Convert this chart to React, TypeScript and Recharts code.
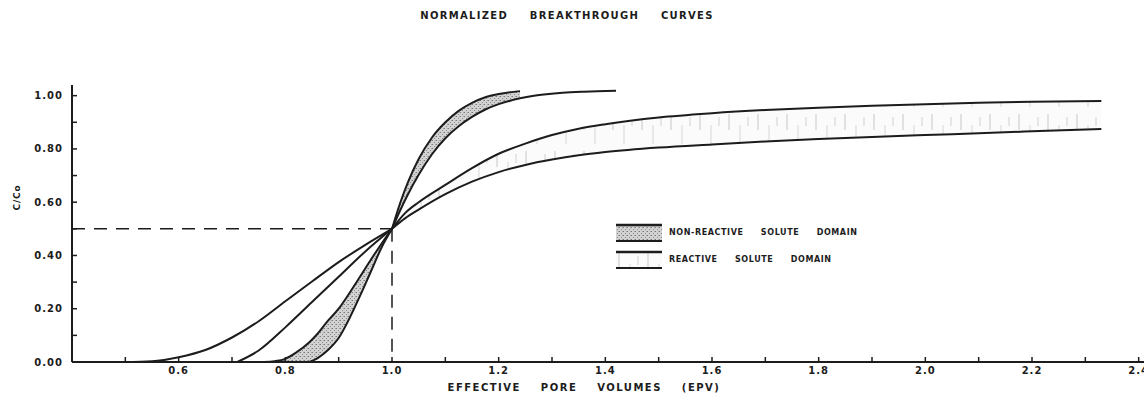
import { ComposedChart, Line, Area, XAxis, YAxis, ReferenceLine, Legend } from "recharts";

// C/Co readings against effective pore volumes, taken off the plot
const nrLowX = [0.76, 0.78, 0.8, 0.82, 0.845, 0.86, 0.88, 0.9, 0.92, 0.94, 0.96, 0.98, 1.0];
const nrLowOuter = [0, 0.003, 0.012, 0.035, 0.074, 0.105, 0.155, 0.2, 0.258, 0.32, 0.383, 0.443, 0.5];
const nrLowInner = [0, 0, 0, 0, 0, 0.014, 0.045, 0.09, 0.163, 0.248, 0.338, 0.428, 0.5];

const nrUpX = [1.0, 1.015, 1.03, 1.05, 1.075, 1.1, 1.125, 1.15, 1.175, 1.2, 1.24];
const nrUpOuter = [0.5, 0.595, 0.675, 0.762, 0.843, 0.9, 0.943, 0.973, 0.994, 1.006, 1.017];
const nrUpInner = [0.5, 0.568, 0.63, 0.703, 0.78, 0.84, 0.885, 0.92, 0.948, 0.968, 0.99];
const nrTailX = [1.24, 1.28, 1.32, 1.36, 1.42];
const nrTail = [0.99, 1.003, 1.011, 1.015, 1.018];

const rLowOuterX = [0.5, 0.55, 0.6, 0.65, 0.7, 0.75, 0.8, 0.85, 0.9, 0.95, 1.0];
const rLowOuter = [0, 0.003, 0.018, 0.045, 0.092, 0.153, 0.228, 0.302, 0.375, 0.44, 0.5];
const rLowInnerX = [0.71, 0.75, 0.8, 0.85, 0.9, 0.95, 1.0];
const rLowInner = [0, 0.043, 0.13, 0.225, 0.32, 0.415, 0.5];

const rUpX = [1.0, 1.025, 1.05, 1.1, 1.15, 1.2, 1.25, 1.3, 1.35, 1.4, 1.5, 1.6, 1.7, 1.8, 1.9, 2.0, 2.1, 2.2, 2.33];
const rUpOuter = [0.5, 0.56, 0.6, 0.665, 0.728, 0.782, 0.82, 0.852, 0.876, 0.893, 0.918, 0.934, 0.946, 0.955, 0.962, 0.968, 0.973, 0.977, 0.98];
const rUpInner = [0.5, 0.54, 0.572, 0.63, 0.677, 0.713, 0.74, 0.76, 0.776, 0.788, 0.805, 0.817, 0.828, 0.837, 0.845, 0.852, 0.859, 0.866, 0.875];

const xTicks = [0.5, 0.6, 0.7, 0.8, 0.9, 1.0, 1.1, 1.2, 1.3, 1.4, 1.5, 1.6, 1.7, 1.8, 1.9, 2.0, 2.1, 2.2, 2.3, 2.4];
const xLabeled = [0.6, 0.8, 1.0, 1.2, 1.4, 1.6, 1.8, 2.0, 2.2, 2.4];
const yTicks = [0, 0.1, 0.2, 0.3, 0.4, 0.5, 0.6, 0.7, 0.8, 0.9, 1.0];
const yLabeled = [0, 0.2, 0.4, 0.6, 0.8, 1.0];

const breakX = 1.0;
const halfC = 0.5;
const xStart = 0.4;

const ink = "#1c1c1c";
const font = "'DejaVu Sans', sans-serif";

const pts = (xs: number[], ys: number[]) => xs.map((x, i) => ({ x, y: ys[i] }));
const band = (xs: number[], lo: number[], hi: number[]) =>
  xs.map((x, i) => ({ x, range: [lo[i], hi[i]] }));

const has = (list: number[], v: number) => list.some((t) => Math.abs(t - v) < 1e-6);

const lettering = {
  fontFamily: font,
  fontWeight: 700,
  fill: ink,
  color: ink,
};

const Patterns = ({ suffix }: { suffix: string }) => (
  <defs>
    <pattern id={"stip" + suffix} width="4" height="4" patternUnits="userSpaceOnUse">
      <rect width="4" height="4" fill="#d2d2d2" />
      <rect x="0" y="0" width="1" height="1" fill="#7a7a7a" />
      <rect x="2" y="2" width="1" height="1" fill="#8c8c8c" />
      <rect x="3" y="0" width="1" height="1" fill="#a5a5a5" />
    </pattern>
    <pattern id={"streak" + suffix} width="29" height="37" patternUnits="userSpaceOnUse">
      <rect width="29" height="37" fill="#fbfbfb" />
      <line x1="4" y1="3" x2="4" y2="19" stroke="#c8c8c8" strokeWidth="1" />
      <line x1="15" y1="14" x2="15" y2="33" stroke="#d8d8d8" strokeWidth="1" />
      <line x1="23" y1="6" x2="23" y2="15" stroke="#d2d2d2" strokeWidth="1" />
    </pattern>
  </defs>
);

const Swatch = ({ fill }: { fill: string }) => (
  <svg width="48" height="20" style={{ display: "block" }}>
    <Patterns suffix="L" />
    <rect x="1" y="2" width="46" height="16" fill={fill} />
    <line x1="1" y1="2" x2="47" y2="2" stroke={ink} strokeWidth="2.5" />
    <line x1="1" y1="18" x2="47" y2="18" stroke={ink} strokeWidth="2" />
  </svg>
);

const renderLegend = () => (
  <div style={{ fontFamily: font, fontWeight: 700, fontSize: 8, color: ink }}>
    {[
      { name: "NON-REACTIVE SOLUTE DOMAIN", fill: "url(#stipL)" },
      { name: "REACTIVE SOLUTE DOMAIN", fill: "url(#streakL)" },
    ].map((d) => (
      <div key={d.name} style={{ display: "flex", alignItems: "center", height: 27 }}>
        <Swatch fill={d.fill} />
        <span style={{ marginLeft: 6, letterSpacing: 0.6, wordSpacing: 14 }}>{d.name}</span>
      </div>
    ))}
  </div>
);

const CcoLabel = (props: any) => {
  const { viewBox } = props;
  const cx = 17;
  const cy = viewBox.y + viewBox.height / 2 - 26;
  return (
    <text
      x={cx}
      y={cy}
      transform={`rotate(-90, ${cx}, ${cy})`}
      textAnchor="middle"
      dominantBaseline="central"
      fontSize={9}
      letterSpacing={0.8}
      {...lettering}
    >
      C/Co
    </text>
  );
};

export default function App() {
  return (
    <div style={{ position: "absolute", left: 0, top: 0, width: 1144, height: 394, background: "#fff" }}>
      <div
        style={{
          position: "absolute",
          left: 0,
          top: 10,
          width: 1134,
          textAlign: "center",
          fontFamily: font,
          fontWeight: 700,
          fontSize: 10,
          letterSpacing: 1.3,
          wordSpacing: 17,
          color: ink,
        }}
      >
        NORMALIZED BREAKTHROUGH CURVES
      </div>
      <ComposedChart width={1144} height={394} margin={{ top: 85, right: 0, bottom: 0, left: 0 }}>
        <Patterns suffix="C" />
        <XAxis
          type="number"
          dataKey="x"
          domain={[xStart, 2.41]}
          allowDataOverflow
          ticks={xTicks}
          interval={0}
          height={32}
          tickSize={-5}
          tickMargin={10}
          axisLine={{ stroke: ink, strokeWidth: 2 }}
          tickLine={{ stroke: ink, strokeWidth: 1.5 }}
          tick={{ fontSize: 10, letterSpacing: 1, ...lettering }}
          tickFormatter={(v: number) => (has(xLabeled, v) ? v.toFixed(1) : "")}
          label={{
            value: "EFFECTIVE PORE VOLUMES (EPV)",
            position: "insideBottom",
            offset: 3,
            dx: -24,
            fontSize: 10,
            letterSpacing: 1.5,
            wordSpacing: 15,
            ...lettering,
          }}
        />
        <YAxis
          type="number"
          domain={[0, 1.04]}
          allowDataOverflow
          ticks={yTicks}
          interval={0}
          width={72}
          tickSize={-5}
          tickMargin={14}
          axisLine={{ stroke: ink, strokeWidth: 2 }}
          tickLine={{ stroke: ink, strokeWidth: 1.5 }}
          tick={{ fontSize: 10, letterSpacing: 1, ...lettering }}
          tickFormatter={(v: number) => (has(yLabeled, v) ? v.toFixed(2) : "")}
          label={<CcoLabel />}
        />

        <Area data={band(nrLowX, nrLowInner, nrLowOuter)} dataKey="range" type="monotone" stroke="none" fill="url(#stipC)" fillOpacity={1} isAnimationActive={false} />
        <Area data={band(nrUpX, nrUpInner, nrUpOuter)} dataKey="range" type="monotone" stroke="none" fill="url(#stipC)" fillOpacity={1} isAnimationActive={false} />
        <Area data={band(rUpX, rUpInner, rUpOuter)} dataKey="range" type="monotone" stroke="none" fill="url(#streakC)" fillOpacity={1} isAnimationActive={false} />

        <ReferenceLine segment={[{ x: xStart, y: halfC }, { x: breakX, y: halfC }]} stroke={ink} strokeWidth={1.5} strokeDasharray="13 9" />
        <ReferenceLine segment={[{ x: breakX, y: halfC }, { x: breakX, y: 0 }]} stroke={ink} strokeWidth={1.5} strokeDasharray="13 9" />

        <Line data={pts(rLowOuterX, rLowOuter)} dataKey="y" type="monotone" dot={false} stroke={ink} strokeWidth={2} isAnimationActive={false} />
        <Line data={pts(rLowInnerX, rLowInner)} dataKey="y" type="monotone" dot={false} stroke={ink} strokeWidth={2} isAnimationActive={false} />
        <Line data={pts(nrLowX, nrLowOuter)} dataKey="y" type="monotone" dot={false} stroke={ink} strokeWidth={2} isAnimationActive={false} />
        <Line data={pts(nrLowX.slice(4), nrLowInner.slice(4))} dataKey="y" type="monotone" dot={false} stroke={ink} strokeWidth={2} isAnimationActive={false} />
        <Line data={pts(nrUpX, nrUpOuter)} dataKey="y" type="monotone" dot={false} stroke={ink} strokeWidth={2} isAnimationActive={false} />
        <Line data={pts(nrUpX, nrUpInner)} dataKey="y" type="monotone" dot={false} stroke={ink} strokeWidth={2} isAnimationActive={false} />
        <Line data={pts(nrTailX, nrTail)} dataKey="y" type="monotone" dot={false} stroke={ink} strokeWidth={2} isAnimationActive={false} />
        <Line data={pts(rUpX, rUpOuter)} dataKey="y" type="monotone" dot={false} stroke={ink} strokeWidth={2} isAnimationActive={false} />
        <Line data={pts(rUpX, rUpInner)} dataKey="y" type="monotone" dot={false} stroke={ink} strokeWidth={2} isAnimationActive={false} />

        <Legend
          layout="horizontal"
          verticalAlign="middle"
          align="center"
          content={renderLegend}
          wrapperStyle={{ left: 615, top: 219, width: 280 }}
        />
      </ComposedChart>
    </div>
  );
}
